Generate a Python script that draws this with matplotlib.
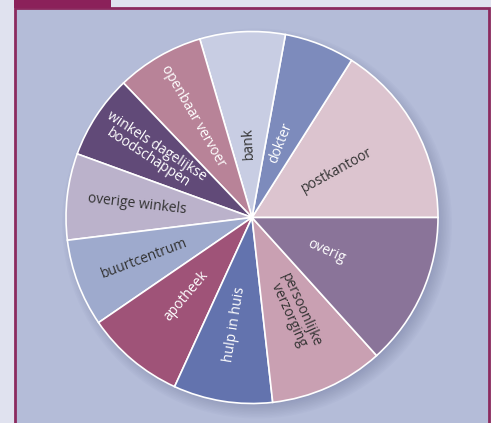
import numpy as np
import matplotlib.pyplot as plt
from matplotlib.patches import Rectangle, Circle

# pie data, counter-clockwise starting at 3 o'clock
labels = ["postkantoor", "dokter", "bank", "openbaar vervoer",
          "winkels dagelijkse\nboodschappen", "overige winkels", "buurtcentrum",
          "apotheek", "hulp in huis", "persoonlijke\nverzorging", "overig"]
shares = [16.0, 6.1, 7.4, 7.6, 7.3, 7.5, 7.6, 8.6, 8.6, 9.9, 13.3]
colors = ["#dcc4cf", "#7d8bbc", "#c8cde3", "#b88398", "#614a78", "#bbb2cb",
          "#9eaacd", "#9f5378", "#6373ae", "#c9a0b2", "#8a7499"]
text_colors = ["#333333", "white", "#333333", "white", "white", "#333333",
               "#333333", "white", "white", "#333333", "white"]
label_radius = [0.52, 0.43, 0.40, 0.63, 0.64, 0.62, 0.62, 0.55, 0.58, 0.56, 0.44]

W, H = 491, 423
fig = plt.figure(figsize=(W / 100, H / 100), dpi=100)
fig.patch.set_facecolor("#e0e2ef")
ax = fig.add_axes([0, 0, 1, 1])

# frame, panel and tab
ax.add_patch(Rectangle((15, -5), 474, H - 8 + 5, facecolor="#b4bcd8",
                       edgecolor="#8b2a5e", linewidth=2, zorder=0))
ax.add_patch(Rectangle((14, H - 8), 97, 8, facecolor="#8b215a",
                       edgecolor="none", zorder=1))

cx, cy, R = 252, 205.5, 186

# soft shadow
for k in range(12):
    ax.add_patch(Circle((cx + 5, cy - 6), R + 9 - k * 1.5, facecolor="#5d6390",
                        edgecolor="none", alpha=0.035, zorder=1))

wedges, _ = ax.pie(shares, colors=colors, startangle=0, counterclock=True,
                   radius=R, center=(cx, cy),
                   wedgeprops=dict(edgecolor="white", linewidth=1.2))
for w in wedges:
    w.set_zorder(2)

for w, lab, tc, lr in zip(wedges, labels, text_colors, label_radius):
    mid = (w.theta1 + w.theta2) / 2
    rot = mid
    if 95 < mid < 275:
        rot = mid - 180
    x = cx + lr * R * np.cos(np.radians(mid))
    y = cy + lr * R * np.sin(np.radians(mid))
    ax.text(x, y, lab, rotation=rot, rotation_mode="anchor", ha="center",
            va="center", color=tc, fontsize=10, family="Open Sans",
            linespacing=0.9, zorder=3)

ax.set_xlim(0, W)
ax.set_ylim(0, H)
ax.set_aspect("equal")
ax.axis("off")
fig.savefig("out.png", dpi=100, facecolor=fig.get_facecolor())
